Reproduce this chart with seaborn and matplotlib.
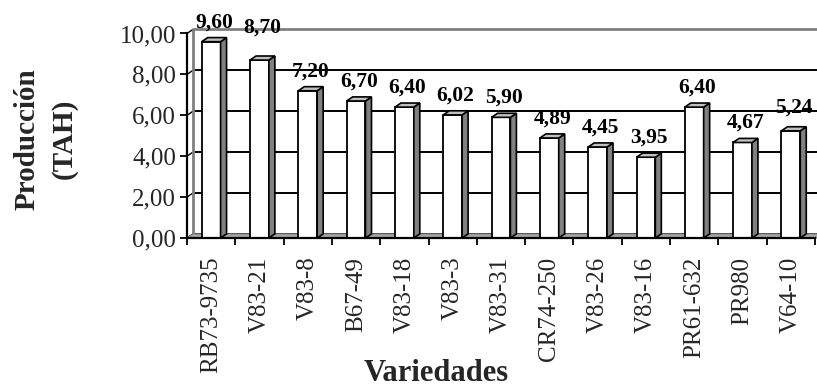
import matplotlib
matplotlib.use("Agg")
import matplotlib.pyplot as plt
from matplotlib.patches import Polygon
import seaborn as sns
import pandas as pd

# ---- data ----
categories = ["RB73-9735", "V83-21", "V83-8", "B67-49", "V83-18", "V83-3",
              "V83-31", "CR74-250", "V83-26", "V83-16", "PR61-632", "PR980", "V64-10"]
values = [9.60, 8.70, 7.20, 6.70, 6.40, 6.02, 5.90, 4.89, 4.45, 3.95, 6.40, 4.67, 5.24]
y_ticks = [0, 2, 4, 6, 8, 10]
y_title = "Producción\n(TAH)"
x_title = "Variedades"

# ---- style ----
sns.set_theme(style="white")
plt.rcParams["font.family"] = ["Liberation Serif", "DejaVu Serif"]

W, H = 817, 389
fig = plt.figure(figsize=(W / 100, H / 100), dpi=100)
ax = fig.add_axes([187 / W, (H - 238) / H, 628 / W, 204.5 / H])

df = pd.DataFrame({"cat": categories, "val": values})
sns.barplot(data=df, x="cat", y="val", color="white", saturation=1,
            edgecolor="black", linewidth=1.3, width=0.39, ax=ax, zorder=3)

ax.set_xlim(-0.5, len(categories) - 0.5)
ax.set_ylim(0, 10)

# pseudo-3D depth offsets (data units)
dx, dy = 0.124, 0.2
x_lo, x_hi = -0.5, len(categories) - 0.5

# back wall gridlines + side-wall diagonals
for v in y_ticks:
    col = "#808080" if v == y_ticks[-1] else "black"
    lw = 2.0 if v == y_ticks[-1] else 1.4
    ax.plot([x_lo + dx, x_hi + dx + 1], [v + dy, v + dy], color=col, lw=lw,
            zorder=1, clip_on=False, solid_capstyle="butt")
    ax.plot([x_lo, x_lo + dx], [v, v + dy], color="black", lw=1.0,
            zorder=1, clip_on=False)
ax.plot([x_lo + dx, x_lo + dx], [dy, 10 + dy], color="#808080", lw=2.0,
        zorder=1, clip_on=False)

# floor
ax.add_patch(Polygon([(x_lo, 0), (x_hi + 1, 0), (x_hi + 1 + dx, dy), (x_lo + dx, dy)],
                     closed=True, facecolor="#a6a6a6", edgecolor="#808080",
                     lw=0.8, zorder=1.5, clip_on=False))

# side and top faces for each bar
for p in list(ax.patches):
    if not hasattr(p, "get_width") or p.get_height() <= 0:
        continue
    x0 = p.get_x()
    x1 = x0 + p.get_width()
    h = p.get_height()
    side = Polygon([(x1, 0), (x1 + dx, dy), (x1 + dx, h + dy), (x1, h)], closed=True,
                   facecolor="#808080", edgecolor="black", lw=1.2, zorder=3,
                   clip_on=False)
    top = Polygon([(x0, h), (x0 + dx, h + dy), (x1 + dx, h + dy), (x1, h)], closed=True,
                  facecolor="#c0c0c0", edgecolor="black", lw=1.2, zorder=3,
                  clip_on=False)
    ax.add_patch(side)
    ax.add_patch(top)

# value labels
label_nudge = {1: 0.62, 12: 0.17}
for i, v in enumerate(values):
    ax.text(i + 0.06, v + 0.95 + label_nudge.get(i, 0), f"{v:.2f}".replace(".", ","),
            ha="center", va="center", fontsize=15.5, fontweight="bold",
            color="black", zorder=6, clip_on=False)

# axes / spines
for s in ["top", "right"]:
    ax.spines[s].set_visible(False)
for s in ["left", "bottom"]:
    ax.spines[s].set_color("black")
    ax.spines[s].set_linewidth(1.6)
    ax.spines[s].set_zorder(4)

ax.set_yticks(y_ticks)
ax.set_yticklabels([f"{t:.2f}".replace(".", ",") for t in y_ticks])
ax.tick_params(axis="y", direction="out", length=5, width=1.3, color="black",
               labelsize=18, pad=3, left=True)

ax.set_xticks(range(len(categories)))
ax.set_xticklabels(categories, rotation=90, va="top", ha="center")
ax.tick_params(axis="x", which="major", length=0, labelsize=18, pad=13.5)
ax.set_xticks([i - 0.5 for i in range(len(categories) + 1)], minor=True)
ax.tick_params(axis="x", which="minor", direction="out", length=5, width=1.3,
               color="black", bottom=True)

ax.set_xlabel("")
ax.set_ylabel("")
ax.grid(False)

fig.text(45.5 / W, 1 - 139 / H, y_title, rotation=90, ha="center", va="center",
         fontsize=21, fontweight="bold", linespacing=1.45, multialignment="center")
fig.text(436 / W, 1 - 381 / H, x_title, ha="center", va="baseline",
         fontsize=22, fontweight="bold")

fig.savefig("out.png", dpi=100, facecolor="white")
